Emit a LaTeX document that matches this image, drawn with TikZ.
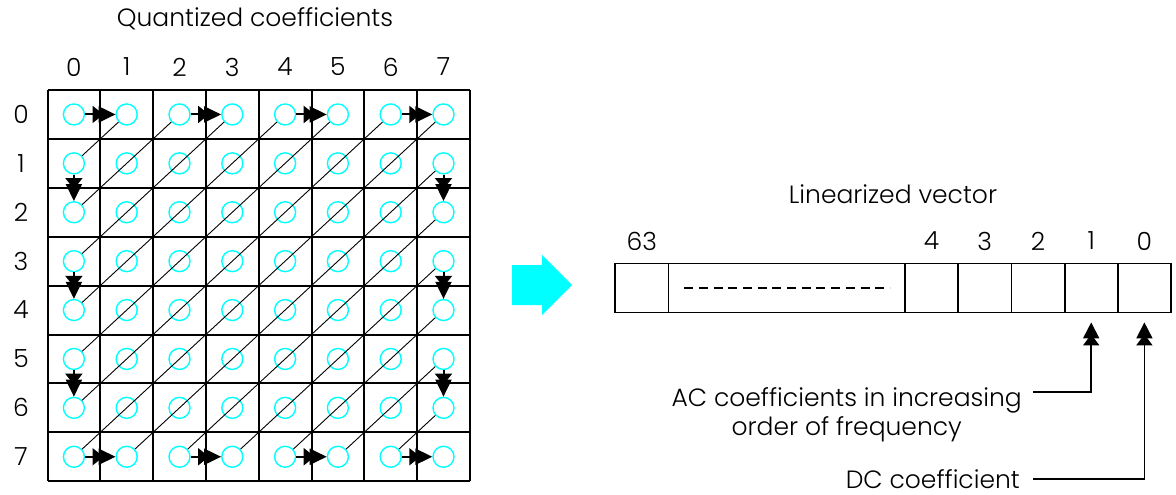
\documentclass[tikz,border=0pt]{standalone}
\usepackage{fontspec}
\setmainfont{Poppins}[UprightFont=* Light]
\usetikzlibrary{arrows.meta}
\definecolor{coefcyan}{RGB}{0,255,255}

\begin{document}
\begin{tikzpicture}[x=1pt,y=-1pt,
  lbl/.style={font=\fontsize{25}{29}\selectfont,inner sep=0pt},
  coef/.style={circle,draw=coefcyan,line width=1.4pt,minimum size=21pt,inner sep=0pt},
  gridline/.style={line width=2pt},
  cellbox/.style={rectangle,draw,line width=1.8pt,minimum height=49pt,inner sep=0pt},
  zz/.style={line width=2pt,-{Triangle[length=11pt,width=17pt,sep=-5pt]Triangle[length=17pt,width=16pt]}},
  diag/.style={line width=0.9pt},
  ptr/.style={line width=1.8pt,-{Triangle[length=11pt,width=16pt,sep=-4pt]Triangle[length=16pt,width=16pt]}}
]
\useasboundingbox (0,0) rectangle (1176,495);

% ---------- 8x8 block of quantized coefficients ----------
\node[lbl,anchor=base] (qtitle) at (255,27) {Quantized coefficients};

\foreach \i in {0,...,8} {
  \draw[gridline] ({47.5+52.8*\i},90) -- ({47.5+52.8*\i},481);
  \draw[gridline] (47.5,{90+48.9*\i}) -- (470,{90+48.9*\i});
}

\foreach \k in {0,...,7} {
  \node[lbl] (col\k) at ({47.5+52.8*(\k+0.5)},67) {\k};
  \node[lbl] (row\k) at (21,{90+48.9*(\k+0.5)}) {\k};
}

\foreach \r in {0,...,7}
  \foreach \c in {0,...,7}
    \node[coef] (c-\r-\c) at ({47.5+52.8*(\c+0.5)},{90+48.9*(\r+0.5)}) {};

% zig-zag scan: anti-diagonals
\foreach \d in {1,...,13} {
  \pgfmathtruncatemacro\rs{max(0,\d-7)}
  \pgfmathtruncatemacro\cs{\d-\rs}
  \pgfmathtruncatemacro\re{min(7,\d)}
  \pgfmathtruncatemacro\ce{\d-\re}
  \draw[diag] (c-\rs-\cs) -- (c-\re-\ce);
}

% zig-zag scan: steps along the border
\foreach \c in {0,2,4,6} {
  \pgfmathtruncatemacro\n{\c+1}
  \draw[zz] (c-0-\c) -- (c-0-\n);
  \draw[zz] (c-7-\c) -- (c-7-\n);
}
\foreach \r in {1,3,5} {
  \pgfmathtruncatemacro\n{\r+1}
  \draw[zz] (c-\r-0) -- (c-\n-0);
  \draw[zz] (c-\r-7) -- (c-\n-7);
}

% ---------- block arrow ----------
\fill[coefcyan] (512,265) -- (542,265) -- (542,255) -- (572,285) -- (542,315)
  -- (542,305) -- (512,305) -- cycle;

% ---------- linearized vector ----------
\node[lbl,anchor=base] (ltitle) at (893,203) {Linearized vector};

\node[cellbox,minimum width=53.5pt] (v63) at (641.75,288) {};
\node[cellbox,minimum width=236.5pt] (vdash) at (786.75,288) {};
\node[cellbox,minimum width=53.2pt] (v4) at (931.6,288) {};
\node[cellbox,minimum width=53.2pt] (v3) at (984.8,288) {};
\node[cellbox,minimum width=53.2pt] (v2) at (1038,288) {};
\node[cellbox,minimum width=53.2pt] (v1) at (1091.2,288) {};
\node[cellbox,minimum width=53.2pt] (v0) at (1144.4,288) {};

\draw[line width=1.2pt,dash pattern=on 9pt off 5.7pt]
  ([xshift=16.5pt]vdash.west) -- ([xshift=-16pt]vdash.east);

\foreach \k/\t in {v63/63,v4/4,v3/3,v2/2,v1/1,v0/0}
  \node[lbl] (l\k) at ([yshift=47pt]\k.center) {\t};

% ---------- annotations ----------
\node[lbl,anchor=base east] (ac1) at (1022,406) {AC coefficients in increasing};
\node[lbl,anchor=base] (ac2) at ([yshift=-29pt]ac1.base) {order of frequency};
\node[lbl,anchor=base east] (dc) at (1020,488) {DC coefficient};

\draw[ptr] ([xshift=11pt,yshift=14pt]ac1.base east) -| ([yshift=-9pt]v1.south);
\draw[ptr] ([xshift=13pt,yshift=9pt]dc.base east) -| ([yshift=-9pt]v0.south);
\end{tikzpicture}
\end{document}
